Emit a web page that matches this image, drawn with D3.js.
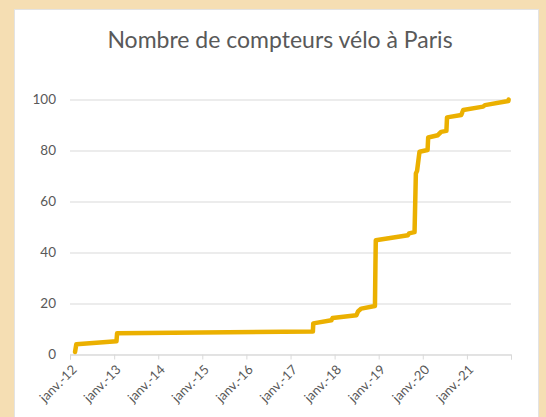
<!DOCTYPE html>
<html>
<head>
<meta charset="utf-8">
<script src="https://cdn.jsdelivr.net/npm/d3@7"></script>
<style>
  body { margin: 0; background: #f5deb3; }
  text { font-family: Lato, "Open Sans", sans-serif; fill: #595959; }
</style>
</head>
<body>
<svg id="chart" width="546" height="417"></svg>
<script>
// data
var dates = ["2012-02-12", "2012-02-22", "2013-01-20", "2013-01-25", "2017-07-05", "2017-07-08",
  "2017-12-05", "2017-12-15", "2018-07-01", "2018-07-15", "2018-08-10", "2018-12-01",
  "2018-12-05", "2018-12-08", "2019-09-01", "2019-09-10", "2019-10-25", "2019-11-05",
  "2019-11-15", "2019-12-05", "2020-02-10", "2020-02-15", "2020-05-05", "2020-06-01",
  "2020-07-15", "2020-07-20", "2020-11-15", "2020-12-01", "2021-05-15", "2021-05-30",
  "2021-12-10", "2021-12-12"];
var counts = [1, 4, 5.2, 8.3, 9, 12.2,
  13.4, 14.3, 15.4, 17, 18, 19,
  35, 44.8, 46.8, 47.5, 48, 71,
  72, 79.5, 80.2, 85.1, 86, 87.3,
  87.7, 93, 93.9, 95.9, 97.2, 97.8,
  99.4, 100];
var yTicks = [0, 20, 40, 60, 80, 100];
var tickYears = [2012, 2013, 2014, 2015, 2016, 2017, 2018, 2019, 2020, 2021, 2022];
var title = "Nombre de compteurs vélo à Paris";

var parse = d3.timeParse("%Y-%m-%d");
var data = dates.map(function(d, i) { return { date: parse(d), value: counts[i] }; });

var margin = { top: 99.5, right: 35, bottom: 62.5, left: 70 };
var width = 546 - margin.left - margin.right;
var height = 417 - margin.top - margin.bottom;

var svg = d3.select("#chart");

// white chart panel
svg.append("rect")
  .attr("x", 14.5).attr("y", 9.5)
  .attr("width", 524).attr("height", 420)
  .attr("fill", "#fff")
  .attr("stroke", "#e3e3e3");

svg.append("text")
  .attr("x", 280).attr("y", 48)
  .attr("text-anchor", "middle")
  .style("font-size", "23px")
  .text(title);

var g = svg.append("g")
  .attr("transform", "translate(" + margin.left + "," + margin.top + ")");

var xScale = d3.scaleTime()
  .domain([new Date(2012, 0, 1), new Date(2022, 0, 1)])
  .range([0, width]);

var yScale = d3.scaleLinear()
  .domain([0, 100])
  .range([height, 0]);

// gridlines + y labels
var yAxis = d3.axisLeft(yScale)
  .tickValues(yTicks)
  .tickSize(-width)
  .tickPadding(14);

g.append("g")
  .attr("class", "y-axis")
  .call(yAxis)
  .call(function(s) {
    s.select(".domain").remove();
    s.selectAll(".tick line").attr("stroke", "#d9d9d9");
    s.selectAll(".tick text").style("font-size", "13.5px").style("fill", "#595959")
      .style("font-family", "Lato, 'Open Sans', sans-serif");
  });

// x axis
var xAxis = d3.axisBottom(xScale)
  .tickValues(tickYears.map(function(y) { return new Date(y, 0, 1); }))
  .tickSize(5)
  .tickFormat(function(d) {
    var y = d.getFullYear();
    return y < 2022 ? "janv.-" + String(y).slice(2) : "";
  });

g.append("g")
  .attr("class", "x-axis")
  .attr("transform", "translate(0," + height + ")")
  .call(xAxis)
  .call(function(s) {
    s.select(".domain").attr("stroke", "#d9d9d9");
    s.selectAll(".tick line").attr("stroke", "#d9d9d9");
    s.selectAll(".tick text")
      .style("font-size", "13px").style("fill", "#595959")
      .style("font-family", "Lato, 'Open Sans', sans-serif")
      .style("text-anchor", "end")
      .attr("dy", null)
      .attr("y", 0)
      .attr("transform", "translate(7,16) rotate(-45)");
  });

// the line
var line = d3.line()
  .x(function(d) { return xScale(d.date); })
  .y(function(d) { return yScale(d.value); });

g.append("path")
  .datum(data)
  .attr("d", line)
  .attr("fill", "none")
  .attr("stroke", "#ebb000")
  .attr("stroke-width", 4.5)
  .attr("stroke-linejoin", "round")
  .attr("stroke-linecap", "round");
</script>
</body>
</html>
